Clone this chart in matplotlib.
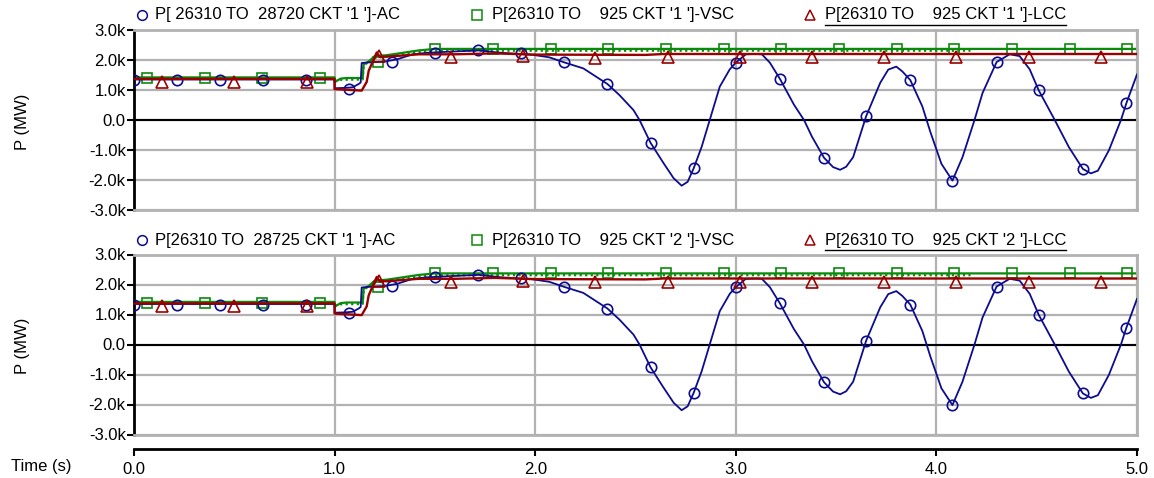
import matplotlib
matplotlib.use("Agg")
import matplotlib.pyplot as plt
from matplotlib.lines import Line2D
from matplotlib.ticker import FixedLocator, FuncFormatter

plt.rcParams['font.family'] = ['Liberation Sans', 'DejaVu Sans']

# ---------------- data (time in s, power in MW) ----------------
ac_t = [0.0, 1.0, 1.0, 1.05, 1.09, 1.12, 1.13, 1.135, 1.17, 1.2, 1.25, 1.31, 1.39,
        1.46, 1.55, 1.65, 1.72, 1.83, 1.99, 2.07, 2.145, 2.24, 2.36, 2.42, 2.49,
        2.52, 2.575, 2.64, 2.69, 2.73, 2.76, 2.79, 2.83, 2.87, 2.92, 2.97, 3.0,
        3.05, 3.1, 3.13, 3.17, 3.22, 3.29, 3.34, 3.38, 3.44, 3.485, 3.52, 3.55,
        3.585, 3.65, 3.72, 3.76, 3.80, 3.83, 3.87, 3.93, 3.97, 4.025, 4.08, 4.13,
        4.19, 4.23, 4.30, 4.365, 4.415, 4.465, 4.51, 4.59, 4.66, 4.73, 4.77, 4.805,
        4.86, 4.92, 4.947, 5.0]
ac_p = [1350, 1350, 1060, 1070, 1090, 1200, 1250, 1900, 1920, 1930, 1950, 2020, 2190,
        2240, 2270, 2300, 2320, 2240, 2170, 2090, 1920, 1720, 1200, 830, 330,
        0, -760, -1440, -1940, -2190, -2060, -1610, -890, 0, 1110, 1690, 1910,
        2190, 2200, 2190, 1910, 1370, 510, 0, -560, -1260, -1570, -1660, -1560,
        -1240, 130, 1240, 1680, 1780, 1620, 1330, 450, -400, -1460, -2020, -1240,
        0, 900, 1930, 2190, 2130, 1690, 990, 0, -900, -1630, -1780, -1690,
        -1010, 0, 560, 1520]
ac_mark_t = [0.0, 0.2145, 0.429, 0.6435, 0.858, 1.07, 1.287, 1.50, 1.716, 1.93,
             2.145, 2.36, 2.575, 2.79, 3.0, 3.22, 3.44, 3.65, 3.87, 4.08, 4.30,
             4.51, 4.73, 4.947]
ac_mark_p = [1320, 1320, 1320, 1320, 1320, 1040, 1950, 2250, 2330, 2220,
             1920, 1200, -760, -1610, 1910, 1370, -1260, 130, 1330, -2020, 1930,
             990, -1630, 560]

vsc_t = [0.0, 1.0, 1.0, 1.03, 1.06, 1.14, 1.145, 1.17, 1.2, 1.26, 1.34, 1.42, 1.5, 5.0]
vsc_p = [1420, 1420, 1260, 1380, 1400, 1400, 1860, 1950, 2130, 2160, 2240, 2320, 2370, 2370]
vsc_dot_t = [1.0, 1.03, 1.14, 1.145, 1.2, 1.26, 1.34, 1.42, 1.5, 4.17]
vsc_dot_p = [1300, 1340, 1350, 1820, 2080, 2110, 2190, 2260, 2310, 2310]
vsc_mark_t = [0.065, 0.3525, 0.64, 0.9275, 1.215, 1.5025, 1.79, 2.0775, 2.365,
              2.6525, 2.94, 3.2275, 3.515, 3.8025, 4.09, 4.3775, 4.665, 4.9525]
vsc_mark_p = [1400, 1400, 1400, 1400, 1930, 2370, 2370, 2370, 2370,
              2370, 2370, 2370, 2370, 2370, 2370, 2370, 2370, 2370]

lcc_t = [0.0, 1.0, 1.0, 1.135, 1.16, 1.17, 1.21, 1.225, 1.3, 1.42, 1.6, 1.8, 2.0,
         2.55, 2.64, 5.0]
lcc_p = [1370, 1370, 1030, 980, 1270, 1640, 2250, 2100, 2130, 2190, 2190, 2220, 2180,
         2170, 2200, 2200]
lcc_mark_t = [0.14, 0.50, 0.86, 1.22, 1.58, 1.94, 2.30, 2.66, 3.02, 3.38, 3.74,
              4.10, 4.46, 4.82]
lcc_mark_p = [1270, 1270, 1270, 2130, 2090, 2120, 2070, 2090, 2100, 2100, 2100,
              2100, 2100, 2100]

y_ticks = [-3000, -2000, -1000, 0, 1000, 2000, 3000]
x_ticks = [0.0, 1.0, 2.0, 3.0, 4.0, 5.0]

legend_top = ["P[ 26310 TO  28720 CKT '1 ']-AC",
              "P[26310 TO    925 CKT '1 ']-VSC",
              "P[26310 TO    925 CKT '1 ']-LCC"]
legend_bot = ["P[26310 TO  28725 CKT '1 ']-AC",
              "P[26310 TO    925 CKT '2 ']-VSC",
              "P[26310 TO    925 CKT '2 ']-LCC"]

# ---------------- styling ----------------
C_AC = '#0c0c8e'
C_VSC = '#0a8a0a'
C_LCC = '#990000'
C_GRID = '#b2b2b2'

W, H = 1154, 478
fig = plt.figure(figsize=(W / 100, H / 100), dpi=100)


def fx(px):
    return px / W


def fy(py):
    return 1 - py / H


X0, X1 = 134, 1137


def kfmt(v, _pos):
    if v == 0:
        return "0.0"
    return f"{v / 1000:.1f}k"


def panel(top_px, bot_px, labels, legend_y, ylabel_y):
    ax = fig.add_axes([fx(X0), fy(bot_px), fx(X1) - fx(X0), (bot_px - top_px) / H])
    ax.set_xlim(0, 5)
    ax.set_ylim(-3000, 3000)
    ax.xaxis.set_major_locator(FixedLocator(x_ticks))
    ax.yaxis.set_major_locator(FixedLocator(y_ticks))
    ax.yaxis.set_major_formatter(FuncFormatter(kfmt))
    ax.tick_params(axis='x', length=0, labelbottom=False)
    ax.tick_params(axis='y', direction='out', length=5, width=1.5, pad=1,
                   labelsize=12, color='black')
    ax.grid(True, color=C_GRID, lw=1.6, zorder=0)
    ax.set_axisbelow(True)
    for s in ('top', 'right', 'bottom'):
        ax.spines[s].set_color(C_GRID)
        ax.spines[s].set_linewidth(2)
    ax.spines['left'].set_color('black')
    ax.spines['left'].set_linewidth(2)
    ax.axhline(0, color='black', lw=1.5, zorder=1)

    # green (VSC)
    ax.plot(vsc_dot_t, vsc_dot_p, color=C_VSC, lw=1.6, ls=(0, (1, 1.5)), zorder=2)
    ax.plot(vsc_t, vsc_p, color=C_VSC, lw=1.6, zorder=2)
    ax.plot(vsc_mark_t, vsc_mark_p, ls='none', marker='s', ms=7, mfc='none',
            mec=C_VSC, mew=1.2, zorder=2)
    # blue (AC)
    ax.plot(ac_t, ac_p, color=C_AC, lw=1.3, zorder=3)
    ax.plot(ac_mark_t, ac_mark_p, ls='none', marker='o', ms=7.5, mfc='none',
            mec=C_AC, mew=1.2, zorder=3)
    # red (LCC)
    ax.plot(lcc_t, lcc_p, color=C_LCC, lw=1.7, zorder=4)
    ax.plot(lcc_mark_t, lcc_mark_p, ls='none', marker='^', ms=8, mfc='none',
            mec=C_LCC, mew=1.2, zorder=4)

    # legend row above the panel
    entries = [(142, 155, 'o', C_AC, 7.0), (477, 492, 's', C_VSC, 6.5),
               (810, 825, '^', C_LCC, 7.5)]
    for (mx, tx, mk, col, ms), lab in zip(entries, labels):
        fig.add_artist(Line2D([fx(mx)], [fy(legend_y)], marker=mk, ms=ms, mfc='none',
                              mec=col, mew=1.1, ls='none', transform=fig.transFigure))
        t = fig.text(fx(tx), fy(legend_y), lab, fontsize=12, ha='left', va='center',
                     color='black')
    # underline of the last (selected) legend entry
    fig.canvas.draw()
    bb = t.get_window_extent()
    fig.add_artist(Line2D([bb.x0 / W, bb.x1 / W], [fy(legend_y + 10)] * 2,
                          color='black', lw=1, transform=fig.transFigure))

    fig.text(fx(22), fy(ylabel_y), "P (MW)", fontsize=12, rotation=90,
             ha='center', va='center')
    return ax


panel(30, 210, legend_top, 15, 122)
panel(254.5, 434.5, legend_bot, 240, 346)

# shared time axis
axt = fig.add_axes([fx(X0), fy(449), fx(X1) - fx(X0), 0.0001])
axt.set_xlim(0, 5)
axt.patch.set_alpha(0)
for s in ('top', 'right', 'left'):
    axt.spines[s].set_visible(False)
axt.spines['bottom'].set_linewidth(2)
axt.set_yticks([])
axt.xaxis.set_major_locator(FixedLocator(x_ticks))
axt.xaxis.set_major_formatter(FuncFormatter(lambda v, p: f"{v:.1f}"))
axt.tick_params(axis='x', direction='out', length=5, width=1.5, pad=4, labelsize=12)
fig.text(fx(11), fy(466), "Time (s)", fontsize=12, ha='left', va='center')

fig.savefig("out.png", dpi=100)
